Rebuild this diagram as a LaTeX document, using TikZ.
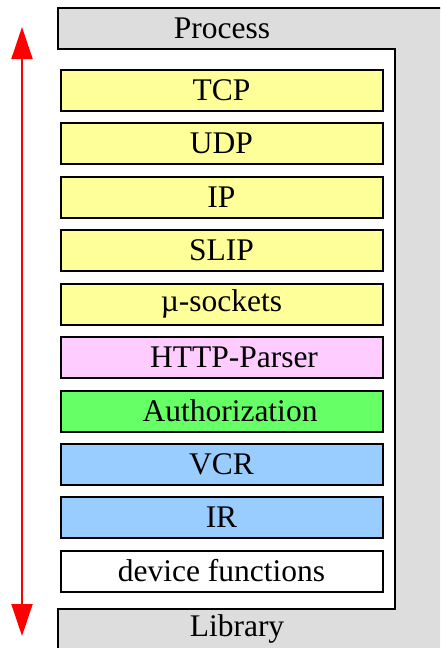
\documentclass[tikz,border=0pt]{standalone}
\usepackage{fontspec}
\setmainfont{Liberation Serif}
\usetikzlibrary{arrows.meta}
\definecolor{frame}{HTML}{DDDDDD}
\definecolor{netyellow}{HTML}{FFFF99}
\definecolor{parserpink}{HTML}{FFCCFF}
\definecolor{authgreen}{HTML}{66FF66}
\definecolor{devblue}{HTML}{99CCFF}
\tikzset{
  x=1pt, y=1pt,
  layer/.style={draw=black, line width=2pt, minimum width=322pt, minimum height=41pt,
    inner sep=0pt, font=\fontsize{31.5}{36}\selectfont, anchor=center},
  label text/.style={font=\fontsize{31.5}{36}\selectfont, inner sep=0pt},
  flow/.style={red, line width=2pt, {Triangle[width=21pt,length=32pt]}-{Triangle[width=21pt,length=32pt]}}
}
\begin{document}
\begin{tikzpicture}
\useasboundingbox (0,0) rectangle (440,-648);
\clip (0,0) rectangle (440,-648);
% grey process/library frame
\draw[fill=frame, line width=2pt]
  (58,-8) -- (446,-8) -- (446,-656) -- (58,-656) -- (58,-609)
  -- (395,-609) -- (395,-49) -- (58,-49) -- cycle;
\node[label text] (process) at (222,-28) {Process};
\node[label text] (library) at (237,-629) {Library};
% protocol stack
\node[layer, fill=netyellow] (tcp) at (221.5,-90.5) {TCP};
\node[layer, fill=netyellow] (udp) at (221.5,-143.5) {UDP};
\node[layer, fill=netyellow] (ip) at (221.5,-197.5) {IP};
\node[layer, fill=netyellow] (slip) at (221.5,-250.5) {SLIP};
\node[layer, fill=netyellow] (usock) at (221.5,-304) {µ-sockets};
\node[layer, fill=parserpink] (http) at (221.5,-357.5) {};
\node[label text] (httptext) at (234,-357.5) {HTTP-Parser};
\node[layer, fill=authgreen] (auth) at (221.5,-411) {};
\node[label text] (authtext) at (230,-411) {Authorization};
\node[layer, fill=devblue] (vcr) at (221.5,-464.5) {VCR};
\node[layer, fill=devblue] (ir) at (221.5,-517.5) {IR};
\node[layer, fill=white] (dev) at (221.5,-571) {device functions};
% bidirectional arrow
\coordinate (atop) at (22,-27);
\coordinate (abot) at (22,-636);
\draw[flow] (atop) -- (abot);
\end{tikzpicture}
\end{document}
